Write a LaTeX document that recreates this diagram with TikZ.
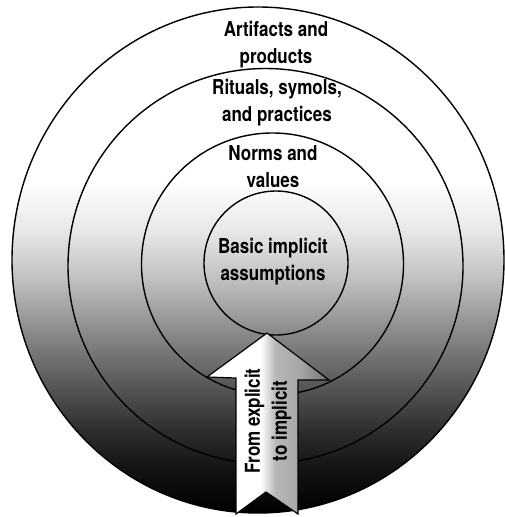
\documentclass[tikz,border=0pt]{standalone}
\usepackage{fontspec}
\setmainfont{TeX Gyre Heros}
\newfontfamily\lblfont{texgyreheros-bold.otf}[FakeStretch=0.83]
\pgfdeclareverticalshading{bgsh}{100bp}{color(0bp)=(black); color(25bp)=(black); color(29.2bp)=(black!93); color(33.2bp)=(black!82); color(38.1bp)=(black!64); color(43.1bp)=(black!45); color(48bp)=(black!25); color(53bp)=(black!9); color(57.9bp)=(white); color(100bp)=(white)}
\pgfdeclarehorizontalshading{arrsh}{100bp}{color(0bp)=(white); color(25bp)=(white); color(47bp)=(white); color(53bp)=(black!28); color(63bp)=(black!35); color(75bp)=(black!55); color(100bp)=(black!55)}
\begin{document}
\begin{tikzpicture}[x=1pt,y=-1pt,
  lbl/.style={font={\lblfont\fontsize{20.5}{27}\selectfont}, align=center, inner sep=0pt},
  ring/.style={draw=black, line width=1.4pt}]
\useasboundingbox[fill=white] (0,0) rectangle (505,517);
% background gradient inside outer ring
\shade[shading=bgsh] (258,260) ellipse [x radius=246pt, y radius=253pt];
% rings
\draw[ring] (258,260) ellipse [x radius=246pt, y radius=253pt];
\draw[ring] (265.5,266) circle [radius=197.5pt];
\draw[ring] (272.5,264) circle [radius=131pt];
\draw[ring] (276,263) circle [radius=72pt];
% arrow
\coordinate (tip) at (267,333);
\coordinate (rc) at (329,380);
\coordinate (rs) at (298,380);
\coordinate (rb) at (298,514);
\coordinate (notch) at (266,492);
\coordinate (lb) at (236,514);
\coordinate (ls) at (236,378);
\coordinate (lc) at (207,377);
\shadedraw[shading=arrsh, draw=black, line width=1.2pt, line join=miter]
  (tip) -- (rc) -- (rs) -- (rb) -- (notch) -- (lb) -- (ls) -- (lc) -- cycle;
% labels (anchor=base is the baseline of the last line)
\node[lbl, anchor=base] (art) at (276,63) {Artifacts and\\products};
\node[lbl, anchor=base] (rit) at (277,121) {Rituals, symols,\\and practices};
\node[lbl, anchor=base] (nor) at (273,187) {Norms and\\values};
\node[lbl, anchor=base] (bas) at (273,280) {Basic implicit\\assumptions};
\node[lbl, rotate=90] (arr) at (268,421) {From explicit\\to implicit};
\end{tikzpicture}
\end{document}
